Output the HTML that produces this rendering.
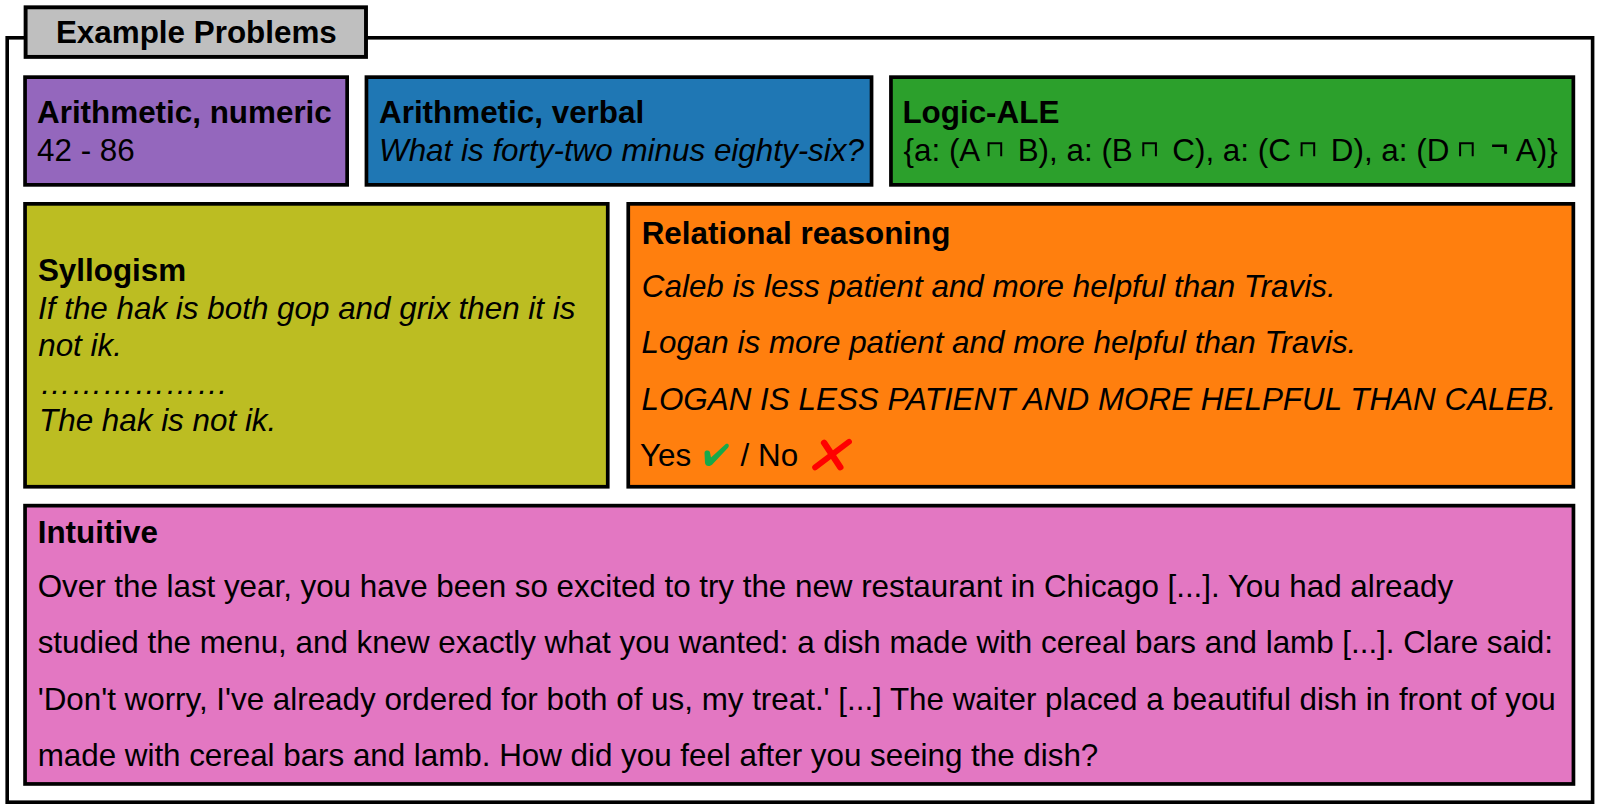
<!DOCTYPE html>
<html><head><meta charset="utf-8"><style>
html,body{margin:0;padding:0;background:#fff;width:1600px;height:810px;overflow:hidden}
svg{display:block}
text{font-family:"Liberation Sans",sans-serif;font-size:31.4px;fill:#000}
.b{font-weight:bold}
.i{font-style:italic}
</style></head><body>
<svg width="1600" height="810" viewBox="0 0 1600 810">
<g fill="none" stroke="#000" stroke-width="3.6">
<rect x="7.2" y="37.8" width="1585.4" height="764.4"/>
</g>
<g stroke="#000" stroke-width="3.7">
<rect x="25.6" y="7.3" width="340.4" height="49.6" fill="#bfbfbf" stroke-width="3.9"/>
<rect x="25.05" y="77.15" width="322.1" height="107.7" fill="#9467bd"/>
<rect x="366.45" y="77.15" width="505.1" height="107.7" fill="#1f77b4"/>
<rect x="890.95" y="77.15" width="682.4" height="107.7" fill="#2ca02c"/>
<rect x="25.05" y="203.85" width="582.7" height="282.9" fill="#bcbd22"/>
<rect x="628.25" y="203.85" width="945.1" height="282.9" fill="#ff7f0e"/>
<rect x="25.05" y="505.65" width="1548.4" height="278.3" fill="#e377c2"/>
</g>
<text class="b" x="55.9" y="43.4">Example Problems</text>

<text class="b" x="37" y="123">Arithmetic, numeric</text>
<text x="37" y="160.5">42 - 86</text>

<text class="b" x="379" y="123">Arithmetic, verbal</text>
<text class="i" x="379" y="160.5">What is forty-two minus eighty-six?</text>

<text class="b" x="902.4" y="123">Logic-ALE</text>
<text x="903.5" y="160.5">{a: (A</text>
<text x="1017.7" y="160.5">B), a: (B</text>
<text x="1172.3" y="160.5">C), a: (C</text>
<text x="1330.8" y="160.5">D), a: (D</text>
<text x="1515.8" y="160.5">A)}</text>
<g fill="none" stroke="#000" stroke-width="2">
<path d="M988.6,156.2V143.3H1001.2V156.2"/>
<path d="M1143.3,156.2V143.3H1155.9V156.2"/>
<path d="M1301.6,156.2V143.3H1314.2V156.2"/>
<path d="M1460.1,156.2V143.3H1472.7V156.2"/>
</g>
<path d="M1492.1,144.4H1506.8V153.75H1504.2V147H1492.1Z" fill="#000"/>

<text class="b" x="37.9" y="281">Syllogism</text>
<text class="i" x="38" y="318.9">If the hak is both gop and grix then it is</text>
<text class="i" x="38.2" y="356.2">not ik.</text>
<text class="i" x="39.8" y="394.1">&#8230;&#8230;&#8230;&#8230;&#8230;&#8230;</text>
<text class="i" x="39" y="431">The hak is not ik.</text>

<text class="b" x="641.7" y="243.8">Relational reasoning</text>
<text class="i" x="641.8" y="296.6">Caleb is less patient and more helpful than Travis.</text>
<text class="i" x="641.5" y="353">Logan is more patient and more helpful than Travis.</text>
<text class="i" x="641.5" y="409.6">LOGAN IS LESS PATIENT AND MORE HELPFUL THAN CALEB.</text>
<text x="640" y="465.8">Yes</text>
<text x="740.6" y="466">/ No</text>
<path d="M704.5,453 C704.5,451 706,450.5 707.5,450.5 C709.3,450.5 710,451.8 710.2,453.5 L711,457.4 L725.5,444.2 C726.8,443.3 728.8,443.6 728.8,445.5 C728.8,446.5 728.3,447.5 727.8,448 L712.5,464.2 C711.5,465.4 710,466 708.5,466 C706.5,466 705.5,465 705,463 Z" fill="#16a94a"/>
<g stroke="#ff0000" stroke-linecap="round"><path d="M815.1,467.4L849,441.8" stroke-width="5.8"/><path d="M824.1,442.8L840.3,467.2" stroke-width="6.4"/></g>

<text class="b" x="37.7" y="542.5">Intuitive</text>
<text x="37.7" y="597.2" textLength="1415.4" lengthAdjust="spacing">Over the last year, you have been so excited to try the new restaurant in Chicago [...]. You had already</text>
<text x="37.7" y="653.4" textLength="1515.3" lengthAdjust="spacing">studied the menu, and knew exactly what you wanted: a dish made with cereal bars and lamb [...]. Clare said:</text>
<text x="37.7" y="709.9" textLength="1518.1" lengthAdjust="spacing">'Don't worry, I've already ordered for both of us, my treat.' [...] The waiter placed a beautiful dish in front of you</text>
<text x="37.7" y="765.6" textLength="1060.6" lengthAdjust="spacing">made with cereal bars and lamb. How did you feel after you seeing the dish?</text>
</svg>
</body></html>
